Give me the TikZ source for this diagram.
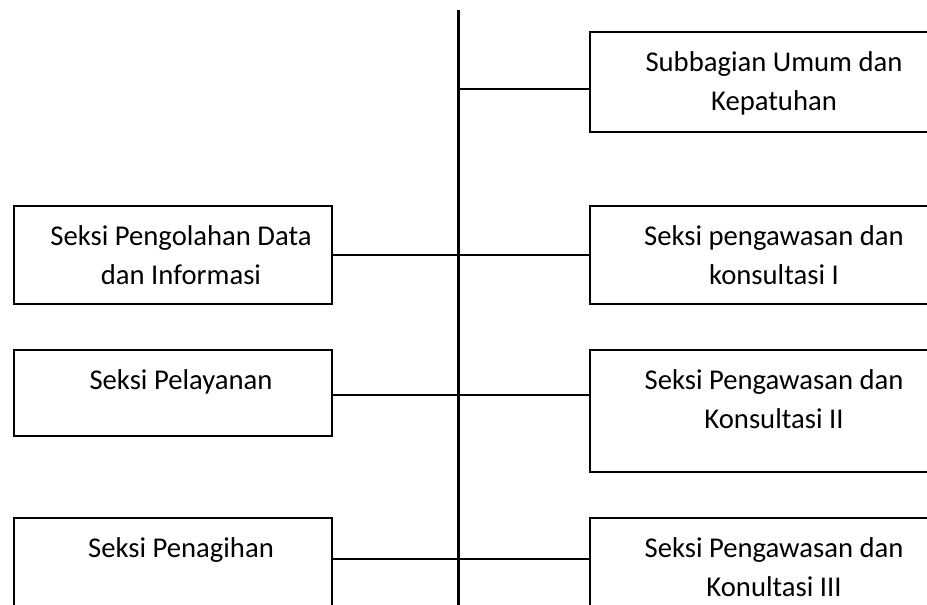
\documentclass[tikz,border=0pt]{standalone}
\usepackage{fontspec}
\setmainfont{Carlito}
\usetikzlibrary{positioning}
\usetikzlibrary{calc}

\begin{document}
\begin{tikzpicture}
			[
				x = 0.75pt, y = -0.75pt,
				unitbox/.style = {draw, rectangle, line width = 1.5pt, anchor = north west, inner sep = 0pt},
				unittext/.style = {anchor = north, align = center, inner sep = 0pt, yshift = -15.5pt, font = \fontsize{21.5}{29.3}\selectfont},
				lefttext/.style = {unittext, xshift = 6pt},
				spine/.style = {line width = 2.25pt},
				link/.style = {line width = 1.5pt}
			]
			\useasboundingbox (0,0) rectangle (927,604);
			\clip (0,0) rectangle (927,604);
			%
			\coordinate (top) at (458,10);
			\coordinate (bottom) at (458,620);
			\draw [spine] (top) -- (bottom);
			%
			\node (umum) [unitbox, minimum width = 276pt, minimum height = 75pt] at (589,31) {};
			\node (umumtext) [unittext] at (umum.north) {Subbagian Umum dan\\Kepatuhan};
			\coordinate (row1) at (458,89);
			\draw [link] (row1) -- (row1 -| umum.west);
			%
			\node (pde) [unitbox, minimum width = 238.5pt, minimum height = 73.5pt] at (13,205) {};
			\node (pdetext) [lefttext] at (pde.north) {Seksi Pengolahan Data\\dan Informasi};
			\node (waskon1) [unitbox, minimum width = 276pt, minimum height = 73.5pt] at (589,205) {};
			\node (waskon1text) [unittext] at (waskon1.north) {Seksi pengawasan dan\\konsultasi I};
			\coordinate (row2) at (458,255);
			\draw [link] (row2 -| pde.east) -- (row2 -| waskon1.west);
			%
			\node (pelayanan) [unitbox, minimum width = 238.5pt, minimum height = 64.5pt] at (13,349) {};
			\node (pelayanantext) [lefttext] at (pelayanan.north) {Seksi Pelayanan};
			\node (waskon2) [unitbox, minimum width = 276pt, minimum height = 91.5pt] at (589,349) {};
			\node (waskon2text) [unittext] at (waskon2.north) {Seksi Pengawasan dan\\Konsultasi II};
			\coordinate (row3) at (458,395);
			\draw [link] (row3 -| pelayanan.east) -- (row3 -| waskon2.west);
			%
			\node (penagihan) [unitbox, minimum width = 238.5pt, minimum height = 75pt] at (13,517) {};
			\node (penagihantext) [lefttext] at (penagihan.north) {Seksi Penagihan};
			\node (waskon3) [unitbox, minimum width = 276pt, minimum height = 91.5pt] at (589,517) {};
			\node (waskon3text) [unittext] at (waskon3.north) {Seksi Pengawasan dan\\Konultasi III};
			\coordinate (row4) at (458,559);
			\draw [link] (row4 -| penagihan.east) -- (row4 -| waskon3.west);
			%
		\end{tikzpicture}
\end{document}
